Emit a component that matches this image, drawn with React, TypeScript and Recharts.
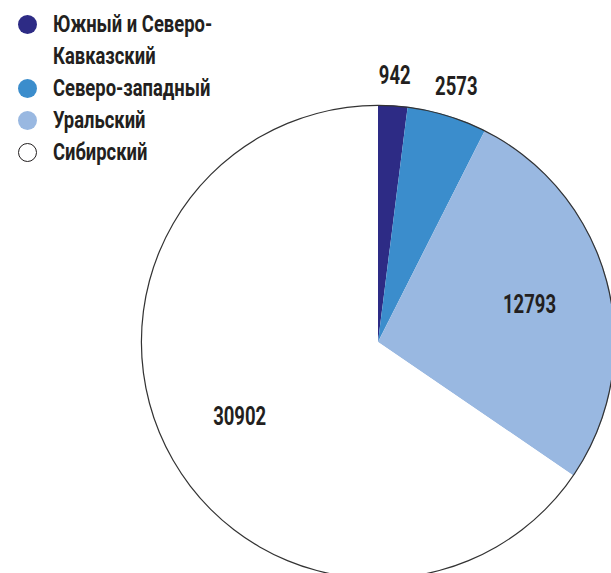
import React from "react";
import { PieChart, Pie, Cell, Legend } from "recharts";

const regions = ["Южный и Северо-Кавказский", "Северо-западный", "Уральский", "Сибирский"];
const values = [942, 2573, 12793, 30902];
const colors = ["#2d2b85", "#3b8dcc", "#99b8e1", "#ffffff"];

const data = regions.map((name, i) => ({ name, value: values[i] }));
const ring = [{ name: "ring", value: 1 }];

const FONT = "Roboto, 'DejaVu Sans', sans-serif";
const RAD = Math.PI / 180;

const renderLabel = (props: any) => {
  const { cx, cy, midAngle, outerRadius, percent, value } = props;
  const r = percent < 0.1 ? outerRadius + 31 : outerRadius * 0.66;
  const x = cx + r * Math.cos(-midAngle * RAD);
  const y = cy + r * Math.sin(-midAngle * RAD) + 1;
  return (
    <text
      transform={`translate(${x},${y}) scale(0.74,1)`}
      x={0}
      y={0}
      textAnchor="middle"
      dominantBaseline="central"
      fill="#231f20"
      fontFamily={FONT}
      fontWeight={700}
      fontSize={25}
    >
      {value}
    </text>
  );
};

const splitName = (name: string) => name.split(/(?<=-)(?=[А-ЯЁ])/);

const LegendContent = () => (
  <div style={{ fontFamily: FONT, fontWeight: 700, fontSize: 23, color: "#231f20" }}>
    {regions.map((name, i) => (
      <div key={name} style={{ display: "flex", alignItems: "flex-start", lineHeight: "32px" }}>
        <div style={{ width: 53, height: 32, position: "relative", flexShrink: 0 }}>
          <div
            style={{
              position: "absolute",
              left: 18,
              top: 6,
              width: 19,
              height: 19,
              borderRadius: "50%",
              boxSizing: "border-box",
              background: colors[i],
              border: colors[i] === "#ffffff" ? "1.5px solid #231f20" : "none",
            }}
          />
        </div>
        <div>
          {splitName(name).map((line) => (
            <div
              key={line}
              style={{ whiteSpace: "nowrap", transform: "scaleX(0.8)", transformOrigin: "left center" }}
            >
              {line}
            </div>
          ))}
        </div>
      </div>
    ))}
  </div>
);

export default function App() {
  return (
    <div style={{ position: "absolute", left: 0, top: 0, width: 611, height: 573, background: "#fff" }}>
      <PieChart width={611} height={573} margin={{ top: 0, right: 0, bottom: 0, left: 0 }}>
        <Pie
          data={data}
          dataKey="value"
          nameKey="name"
          cx={378}
          cy={342}
          outerRadius={237}
          startAngle={90}
          endAngle={-270}
          stroke="none"
          label={renderLabel}
          labelLine={false}
          isAnimationActive={false}
        >
          {data.map((d, i) => (
            <Cell key={d.name} fill={colors[i]} />
          ))}
        </Pie>
        <Pie
          data={ring}
          dataKey="value"
          cx={378}
          cy={342}
          innerRadius={236}
          outerRadius={237.2}
          startAngle={90}
          endAngle={-270}
          fill="#333333"
          stroke="none"
          legendType="none"
          isAnimationActive={false}
        />
        <Legend
          layout="vertical"
          align="center"
          verticalAlign="middle"
          wrapperStyle={{ left: 0, top: 9, width: 240, height: 170 }}
          content={() => <LegendContent />}
        />
      </PieChart>
    </div>
  );
}
